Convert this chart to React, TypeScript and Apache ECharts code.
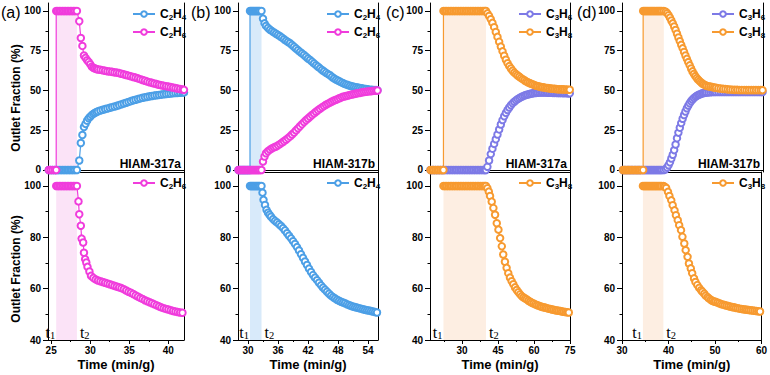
import React, { useEffect, useRef } from "react";
import * as echarts from "echarts";

const PINK = "#f03cdc";
const BLUE = "#4c9fe6";
const PURPLE = "#7d7ae6";
const ORANGE = "#f79a30";
const SANS = "'Liberation Sans', Arial, Helvetica, sans-serif";
const SERIF = "'Liberation Serif', 'Times New Roman', serif";

// ---------- (a) HIAM-317a, C2H4/C2H6 ----------
const aTopC2H4: number[][] = [
  [24.7, 0], [24.95, 0], [25.2, 0], [25.45, 0], [25.65, 0], [25.85, 0], [26.05, 0], [26.25, 0], [26.45, 0], [26.65, 0],
  [26.85, 0], [27.05, 0], [27.25, 0], [27.45, 0], [27.65, 0], [27.85, 0], [28.05, 0], [28.3, 0],
  [28.6, 6], [28.8, 17], [29.0, 22], [29.2, 27], [29.4, 29], [29.6, 31], [29.8, 32.5], [30.0, 33.5], [30.2, 34.5],
  [30.4, 35.3], [30.6, 35.9], [30.8, 36.4], [31.0, 36.9], [31.3, 37.4], [31.6, 37.9], [31.9, 38.3], [32.2, 38.7],
  [32.5, 39.1], [32.8, 39.5], [33.1, 39.9], [33.4, 40.3], [33.7, 40.8], [34.0, 41.3], [34.3, 41.8], [34.6, 42.3],
  [34.9, 42.8], [35.2, 43.3], [35.5, 43.8], [35.8, 44.2], [36.1, 44.6], [36.4, 45.0], [36.7, 45.4], [37.0, 45.7],
  [37.3, 46.0], [37.6, 46.3], [37.9, 46.5], [38.2, 46.8], [38.5, 47.0], [38.8, 47.2], [39.1, 47.4], [39.4, 47.6],
  [39.7, 47.8], [40.0, 47.9], [40.3, 48.1], [40.6, 48.3], [40.9, 48.4], [41.2, 48.5], [41.5, 48.6], [41.8, 48.7], [42.0, 48.8],
];
const aTopC2H6: number[][] = [
  [24.7, 0], [24.95, 0], [25.2, 0], [25.45, 0], [25.65, 0],
  [25.65, 100], [25.85, 100], [26.05, 100], [26.25, 100], [26.45, 100], [26.65, 100], [26.85, 100], [27.05, 100],
  [27.25, 100], [27.45, 100], [27.65, 100], [27.85, 100], [28.05, 100], [28.3, 100],
  [28.6, 93.5], [28.8, 83], [29.0, 78], [29.2, 72], [29.4, 70.5], [29.6, 69], [29.8, 68], [30.0, 66.5], [30.2, 65],
  [30.4, 64.3], [30.6, 63.8], [30.8, 63.5], [31.0, 63.2], [31.3, 63.0], [31.6, 62.7], [31.9, 62.4], [32.2, 62.1],
  [32.5, 61.9], [32.8, 61.7], [33.1, 61.4], [33.4, 61.2], [33.7, 60.9], [34.0, 60.5], [34.3, 60.1], [34.6, 59.7],
  [34.9, 59.3], [35.2, 58.9], [35.5, 58.5], [35.8, 58.1], [36.1, 57.6], [36.4, 57.1], [36.7, 56.6], [37.0, 56.1],
  [37.3, 55.6], [37.6, 55.2], [37.9, 54.8], [38.2, 54.4], [38.5, 54.0], [38.8, 53.6], [39.1, 53.3], [39.4, 53.0],
  [39.7, 52.7], [40.0, 52.4], [40.3, 52.1], [40.6, 51.8], [40.9, 51.5], [41.2, 51.2], [41.5, 50.9], [41.8, 50.6], [42.0, 50.4],
];
const aBotC2H6: number[][] = [
  [25.65, 100], [25.85, 100], [26.05, 100], [26.25, 100], [26.45, 100], [26.65, 100], [26.85, 100], [27.05, 100],
  [27.25, 100], [27.45, 100], [27.65, 100], [27.85, 100], [28.05, 100], [28.3, 100],
  [28.5, 94], [28.6, 89], [28.8, 84.5], [28.9, 79.5], [29.1, 78], [29.2, 74], [29.35, 71.5], [29.5, 70.2], [29.65, 68.5],
  [29.9, 66.7], [30.1, 65], [30.4, 64.2], [30.7, 63.6], [31.0, 63.2], [31.3, 62.9], [31.6, 62.6], [31.9, 62.3],
  [32.2, 62.0], [32.5, 61.7], [32.8, 61.4], [33.1, 61.1], [33.4, 60.8], [33.7, 60.5], [34.0, 60.2], [34.3, 59.8],
  [34.6, 59.3], [34.9, 58.8], [35.2, 58.4], [35.5, 57.9], [35.8, 57.4], [36.1, 56.9], [36.4, 56.4], [36.7, 56.0],
  [37.0, 55.5], [37.3, 55.1], [37.6, 54.7], [37.9, 54.3], [38.2, 53.9], [38.5, 53.5], [38.8, 53.1], [39.1, 52.7],
  [39.4, 52.4], [39.7, 52.1], [40.0, 51.9], [40.3, 51.6], [40.6, 51.3], [40.9, 51.1], [41.2, 50.9], [41.5, 50.7], [41.8, 50.6],
];

// ---------- (b) HIAM-317b, C2H4/C2H6 ----------
const bTopC2H4: number[][] = [
  [28.1, 0], [28.35, 0], [28.6, 0], [28.85, 0], [29.1, 0], [29.35, 0], [29.6, 0], [29.85, 0], [30.1, 0], [30.4, 0],
  [30.4, 100], [30.6, 100], [30.8, 100], [31.0, 100], [31.2, 100], [31.4, 100], [31.6, 100], [31.8, 100], [32.0, 100],
  [32.2, 100], [32.4, 100], [32.7, 100],
  [33.0, 95.2], [33.3, 92.2], [33.6, 90.6], [34.0, 89.3], [34.4, 88.2], [34.8, 87.3], [35.2, 86.5], [35.6, 85.7],
  [36.0, 84.9], [36.4, 84.1], [36.8, 83.2], [37.2, 82.2], [37.6, 81.3], [38.0, 80.5], [38.4, 79.7], [38.8, 78.6],
  [39.2, 77.5], [39.6, 76.4], [40.0, 75.3], [40.4, 74.3], [40.8, 73.3], [41.2, 72.3], [41.6, 71.2], [42.0, 70.1],
  [42.4, 69.2], [42.8, 68.1], [43.2, 67.0], [43.6, 65.9], [44.0, 64.9], [44.4, 63.9], [44.8, 62.9], [45.2, 62.0],
  [45.6, 61.1], [46.0, 60.3], [46.4, 59.6], [46.8, 58.5], [47.2, 57.6], [47.6, 56.8], [48.0, 56.2], [48.4, 55.6],
  [48.8, 54.9], [49.2, 54.3], [49.6, 53.8], [50.0, 53.4], [50.4, 53.0], [50.8, 52.6], [51.2, 52.3], [51.6, 52.0],
  [52.0, 51.8], [52.4, 51.6], [52.8, 51.3], [53.2, 51.1], [53.6, 50.9], [54.0, 50.7], [54.4, 50.5], [54.8, 50.4],
  [55.2, 50.3], [55.6, 50.2], [55.9, 50.1],
];
const bTopC2H6: number[][] = [
  [28.1, 0], [28.35, 0], [28.6, 0], [28.85, 0], [29.1, 0], [29.35, 0], [29.6, 0], [29.85, 0], [30.1, 0], [30.4, 0],
  [30.6, 0], [30.8, 0], [31.0, 0], [31.2, 0], [31.4, 0], [31.6, 0], [31.8, 0], [32.0, 0], [32.2, 0], [32.4, 0], [32.7, 0],
  [33.0, 5.3], [33.3, 8.5], [33.6, 10.5], [34.0, 11.8], [34.4, 12.8], [34.8, 13.6], [35.2, 14.2], [35.6, 14.8],
  [36.0, 15.5], [36.4, 16.3], [36.8, 17.2], [37.2, 18.1], [37.6, 19.0], [38.0, 20.0], [38.4, 21.1], [38.8, 22.3],
  [39.2, 23.5], [39.6, 24.9], [40.0, 26.2], [40.4, 27.5], [40.8, 28.8], [41.2, 30.1], [41.6, 31.3], [42.0, 32.4],
  [42.4, 33.5], [42.8, 34.6], [43.2, 35.6], [43.6, 36.6], [44.0, 37.6], [44.4, 38.5], [44.8, 39.4], [45.2, 40.2],
  [45.6, 41.0], [46.0, 41.7], [46.4, 42.4], [46.8, 43.1], [47.2, 43.7], [47.6, 44.2], [48.0, 44.7], [48.4, 45.3],
  [48.8, 45.8], [49.2, 46.2], [49.6, 46.5], [50.0, 46.8], [50.4, 47.2], [50.8, 47.5], [51.2, 47.8], [51.6, 48.0],
  [52.0, 48.3], [52.4, 48.5], [52.8, 48.8], [53.2, 49.0], [53.6, 49.2], [54.0, 49.4], [54.4, 49.5], [54.8, 49.7],
  [55.2, 49.8], [55.6, 49.9], [55.9, 50.0],
];
const bBotC2H4: number[][] = [
  [30.4, 100], [30.6, 100], [30.8, 100], [31.0, 100], [31.2, 100], [31.4, 100], [31.6, 100], [31.8, 100], [32.0, 100],
  [32.2, 100], [32.4, 100], [32.7, 100],
  [32.9, 97.4], [33.1, 94.6], [33.4, 92.6], [33.7, 90.7], [34.0, 89.6], [34.3, 88.8], [34.6, 88.0], [35.0, 87.1],
  [35.4, 86.4], [35.8, 85.8], [36.2, 85.1], [36.6, 84.4], [37.0, 83.6], [37.4, 82.7], [37.8, 81.6], [38.2, 80.6],
  [38.6, 79.6], [39.0, 78.5], [39.4, 77.4], [39.8, 76.2], [40.2, 74.9], [40.6, 73.4], [41.0, 72.0], [41.4, 70.6],
  [41.8, 69.2], [42.2, 67.8], [42.6, 66.5], [43.0, 65.3], [43.4, 64.3], [43.8, 63.3], [44.2, 62.3], [44.6, 61.3],
  [45.0, 60.4], [45.4, 59.6], [45.8, 58.8], [46.2, 58.0], [46.6, 57.3], [47.0, 56.7], [47.4, 56.2], [47.8, 55.7],
  [48.2, 55.3], [48.6, 54.9], [49.0, 54.6], [49.4, 54.3], [49.8, 53.9], [50.2, 53.6], [50.6, 53.3], [51.0, 53.0],
  [51.4, 52.8], [51.8, 52.6], [52.2, 52.4], [52.6, 52.2], [53.0, 52.0], [53.4, 51.8], [53.8, 51.6], [54.2, 51.5],
  [54.6, 51.3], [55.0, 51.1], [55.4, 50.9], [55.8, 50.7],
];

// ---------- (c) HIAM-317a, C3H6/C3H8 ----------
const cTopC3H6: number[][] = [
  [16.9, 0], [17.6, 0], [18.3, 0], [19.0, 0], [19.7, 0], [20.4, 0], [21.1, 0], [21.8, 0], [22.3, 0], [23.0, 0], [23.7, 0],
  [24.4, 0], [25.1, 0], [25.8, 0], [26.5, 0], [27.2, 0], [27.9, 0], [28.6, 0], [29.3, 0], [30.0, 0], [30.7, 0], [31.4, 0],
  [32.1, 0], [32.8, 0], [33.5, 0], [34.2, 0], [34.9, 0], [35.6, 0], [36.3, 0], [37.0, 0], [37.7, 0], [38.4, 0], [39.1, 0],
  [39.6, 0], [40.0, 0],
  [40.6, 2], [41.3, 6], [42.0, 10], [42.7, 13.4], [43.4, 16.4], [44.1, 19.3], [44.8, 22.3], [45.5, 25.5], [46.2, 28.6],
  [46.9, 31.4], [47.6, 33.8], [48.3, 35.9], [49.0, 37.7], [49.7, 39.3], [50.4, 40.7], [51.1, 41.9], [51.8, 42.9],
  [52.5, 43.8], [53.2, 44.6], [53.9, 45.2], [54.6, 45.8], [55.3, 46.3], [56.0, 46.8], [56.7, 47.2], [57.4, 47.5],
  [58.1, 47.8], [58.8, 48.0], [59.5, 48.2], [60.2, 48.4], [60.9, 48.5], [61.6, 48.6], [62.3, 48.7], [63.0, 48.7],
  [63.7, 48.7], [64.4, 48.7], [65.1, 48.7], [65.8, 48.6], [66.5, 48.6], [67.2, 48.6], [67.9, 48.5], [68.6, 48.5],
  [69.3, 48.5], [70.0, 48.4], [70.7, 48.4], [71.4, 48.4], [72.1, 48.3], [72.8, 48.3], [73.5, 48.3], [74.2, 48.2], [74.9, 48.2],
];
const cTopC3H8: number[][] = [
  [16.9, 0], [17.6, 0], [18.3, 0], [19.0, 0], [19.7, 0], [20.4, 0], [21.1, 0], [21.8, 0], [22.3, 0],
  [22.3, 100], [23.0, 100], [23.7, 100], [24.4, 100], [25.1, 100], [25.8, 100], [26.5, 100], [27.2, 100], [27.9, 100],
  [28.6, 100], [29.3, 100], [30.0, 100], [30.7, 100], [31.4, 100], [32.1, 100], [32.8, 100], [33.5, 100], [34.2, 100],
  [34.9, 100], [35.6, 100], [36.3, 100], [37.0, 100], [37.7, 100], [38.4, 100], [39.1, 100], [39.6, 100], [40.0, 100],
  [40.6, 98.5], [41.3, 96.8], [42.0, 94.8], [42.7, 92.5], [43.4, 89.8], [44.1, 86.8], [44.8, 83.7], [45.5, 80.6],
  [46.2, 77.6], [46.9, 74.6], [47.6, 71.8], [48.3, 69.3], [49.0, 67.1], [49.7, 65.3], [50.4, 63.8], [51.1, 62.4],
  [51.8, 61.2], [52.5, 60.3], [53.2, 59.4], [53.9, 58.6], [54.6, 57.8], [55.3, 57.1], [56.0, 56.4], [56.7, 55.7],
  [57.4, 55.2], [58.1, 54.7], [58.8, 54.2], [59.5, 53.8], [60.2, 53.4], [60.9, 53.0], [61.6, 52.7], [62.3, 52.4],
  [63.0, 52.2], [63.7, 52.0], [64.4, 51.8], [65.1, 51.6], [65.8, 51.5], [66.5, 51.3], [67.2, 51.2], [67.9, 51.1],
  [68.6, 51.0], [69.3, 50.9], [70.0, 50.8], [70.7, 50.8], [71.4, 50.7], [72.1, 50.7], [72.8, 50.6], [73.5, 50.6],
  [74.2, 50.5], [74.9, 50.5],
];
const cBotC3H8: number[][] = [
  [22.3, 100], [23.0, 100], [23.7, 100], [24.4, 100], [25.1, 100], [25.8, 100], [26.5, 100], [27.2, 100], [27.9, 100],
  [28.6, 100], [29.3, 100], [30.0, 100], [30.7, 100], [31.4, 100], [32.1, 100], [32.8, 100], [33.5, 100], [34.2, 100],
  [34.9, 100], [35.6, 100], [36.3, 100], [37.0, 100], [37.7, 100], [38.4, 100], [39.1, 100], [39.6, 100], [40.0, 100],
  [40.6, 99.1], [41.2, 97.8], [41.7, 96.1], [42.4, 93.9], [43.1, 91.4], [43.8, 88.8], [44.5, 85.5], [45.2, 83.0],
  [45.9, 79.7], [46.6, 76.5], [47.2, 73.3], [47.9, 70.5], [48.6, 68.1], [49.3, 66.0], [50.0, 64.3], [50.7, 62.9],
  [51.4, 61.7], [52.1, 60.5], [52.8, 59.5], [53.5, 58.6], [54.2, 57.8], [54.9, 57.1], [55.6, 56.6], [56.3, 56.2],
  [57.0, 55.8], [57.7, 55.3], [58.4, 54.9], [59.1, 54.5], [59.8, 54.2], [60.5, 53.9], [61.2, 53.6], [61.9, 53.4],
  [62.6, 53.1], [63.3, 52.9], [64.0, 52.7], [64.7, 52.6], [65.4, 52.4], [66.1, 52.2], [66.8, 52.1], [67.5, 51.9],
  [68.2, 51.8], [68.9, 51.6], [69.6, 51.5], [70.3, 51.4], [71.0, 51.3], [71.7, 51.1], [72.4, 51.0], [73.1, 50.9],
  [73.8, 50.8], [74.5, 50.7],
];

// ---------- (d) HIAM-317b, C3H6/C3H8 ----------
const dTopC3H6: number[][] = [
  [30.2, 0], [30.5, 0], [30.8, 0], [31.1, 0], [31.4, 0], [31.7, 0], [32.0, 0], [32.3, 0], [32.6, 0], [32.9, 0], [33.2, 0],
  [33.5, 0], [33.8, 0], [34.1, 0], [34.5, 0], [34.75, 0], [35.0, 0], [35.25, 0], [35.5, 0], [35.75, 0], [36.0, 0],
  [36.25, 0], [36.5, 0], [36.75, 0], [37.0, 0], [37.25, 0], [37.5, 0], [37.75, 0], [38.0, 0], [38.25, 0], [38.5, 0], [38.9, 0],
  [39.3, 0.5], [39.6, 1.6], [39.9, 3.0], [40.2, 4.8], [40.5, 7.2], [40.8, 9.6], [41.1, 12.5], [41.4, 16.0], [41.7, 20.0],
  [42.0, 23.5], [42.3, 26.6], [42.6, 29.5], [42.9, 32.2], [43.2, 34.6], [43.5, 36.8], [43.8, 38.8], [44.1, 40.5],
  [44.4, 42.0], [44.7, 43.2], [45.0, 44.3], [45.3, 45.2], [45.6, 46.0], [45.9, 46.6], [46.2, 47.1], [46.5, 47.5],
  [46.8, 47.9], [47.1, 48.2], [47.4, 48.4], [47.7, 48.6], [48.0, 48.7], [48.4, 48.8], [48.8, 48.9], [49.2, 49.0],
  [49.6, 49.0], [50.0, 49.0], [50.5, 49.0], [51.0, 49.0], [51.5, 49.0], [52.0, 49.0], [52.5, 49.0], [53.0, 49.0],
  [53.5, 49.0], [54.0, 49.0], [54.5, 49.0], [55.0, 49.0], [55.5, 49.0], [56.0, 49.0], [56.5, 49.0], [57.0, 49.0],
  [57.5, 49.0], [58.0, 49.0], [58.5, 49.0], [59.0, 49.0], [59.5, 49.0], [59.9, 49.0],
];
const dTopC3H8: number[][] = [
  [30.2, 0], [30.5, 0], [30.8, 0], [31.1, 0], [31.4, 0], [31.7, 0], [32.0, 0], [32.3, 0], [32.6, 0], [32.9, 0], [33.2, 0],
  [33.5, 0], [33.8, 0], [34.1, 0], [34.5, 0],
  [34.5, 100], [34.75, 100], [35.0, 100], [35.25, 100], [35.5, 100], [35.75, 100], [36.0, 100], [36.25, 100], [36.5, 100],
  [36.75, 100], [37.0, 100], [37.25, 100], [37.5, 100], [37.75, 100], [38.0, 100], [38.25, 100], [38.5, 100], [38.9, 100],
  [39.3, 99.5], [39.6, 98.6], [39.9, 97.3], [40.2, 95.8], [40.5, 94.0], [40.8, 92.2], [41.1, 90.2], [41.4, 88.0],
  [41.7, 85.7], [42.0, 83.3], [42.3, 81.0], [42.6, 78.7], [42.9, 76.5], [43.2, 74.2], [43.5, 72.0], [43.8, 69.9],
  [44.1, 67.8], [44.4, 65.8], [44.7, 63.8], [45.0, 62.0], [45.3, 60.4], [45.6, 59.0], [45.9, 57.8], [46.2, 56.8],
  [46.5, 55.9], [46.8, 55.1], [47.1, 54.4], [47.4, 53.8], [47.7, 53.3], [48.0, 52.9], [48.4, 52.6], [48.8, 52.4],
  [49.2, 52.2], [49.6, 51.9], [50.0, 51.7], [50.5, 51.4], [51.0, 51.2], [51.5, 51.0], [52.0, 50.9], [52.5, 50.7],
  [53.0, 50.6], [53.5, 50.5], [54.0, 50.4], [54.5, 50.4], [55.0, 50.3], [55.5, 50.3], [56.0, 50.3], [56.5, 50.2],
  [57.0, 50.2], [57.5, 50.2], [58.0, 50.2], [58.5, 50.2], [59.0, 50.2], [59.5, 50.2], [59.9, 50.2],
];
const dBotC3H8: number[][] = [
  [34.5, 100], [34.75, 100], [35.0, 100], [35.25, 100], [35.5, 100], [35.75, 100], [36.0, 100], [36.25, 100], [36.5, 100],
  [36.75, 100], [37.0, 100], [37.25, 100], [37.5, 100], [37.75, 100], [38.0, 100], [38.25, 100], [38.5, 100], [38.9, 100],
  [39.2, 99.7], [39.5, 99.2], [39.9, 97.7], [40.2, 96.1], [40.6, 94.4], [40.9, 92.5], [41.3, 90.5], [41.6, 88.6],
  [42.0, 86.7], [42.3, 84.7], [42.7, 82.8], [43.0, 80.2], [43.4, 77.6], [43.7, 75.0], [44.1, 72.4], [44.4, 69.8],
  [44.8, 67.9], [45.1, 66.0], [45.5, 64.0], [45.8, 62.6], [46.2, 61.4], [46.6, 60.3], [47.0, 59.4], [47.3, 58.8],
  [47.7, 58.0], [48.0, 57.3], [48.4, 56.7], [48.7, 56.2], [49.1, 55.7], [49.4, 55.3], [49.8, 55.0], [50.1, 54.9],
  [50.5, 54.6], [50.9, 54.3], [51.3, 54.0], [51.7, 53.8], [52.1, 53.6], [52.5, 53.4], [52.9, 53.2], [53.3, 53.0],
  [53.7, 52.8], [54.1, 52.7], [54.5, 52.5], [54.9, 52.4], [55.3, 52.2], [55.7, 52.1], [56.1, 52.0], [56.5, 51.9],
  [56.9, 51.8], [57.3, 51.7], [57.7, 51.6], [58.1, 51.5], [58.5, 51.4], [58.9, 51.3], [59.3, 51.2], [59.7, 51.1],
];

// ---------- axes ----------
const topYTicks = [0, 25, 50, 75, 100];
const topYMinor = [12.5, 37.5, 62.5, 87.5];
const botYTicks = [40, 60, 80, 100];
const botYMinor = [50, 70, 90];
const xTitle = "Time (min/g)";
const yTitle = "Outlet Fraction (%)";

const aXTicks = [25, 30, 35, 40];
const aXMinor = [27.5, 32.5, 37.5];
const bXTicks = [30, 36, 42, 48, 54];
const bXMinor = [33, 39, 45, 51];
const cXTicks = [30, 45, 60, 75];
const cXMinor = [22.5, 37.5, 52.5, 67.5];
const dXTicks = [30, 40, 50, 60];
const dXMinor = [35, 45, 55];

const panels = [
  {
    letter: "(a)", letterX: 1, tag: "HIAM-317a", left: 48, width: 136, xMin: 24.6, xMax: 42,
    xTicks: aXTicks, xMinor: aXMinor, t1: 25.65, t2: 28.3, shade: "#fbe3f7",
    top: [{ name: "C2H4", color: BLUE, data: aTopC2H4 }, { name: "C2H6", color: PINK, data: aTopC2H6 }],
    bottom: [{ name: "C2H6", color: PINK, data: aBotC2H6 }],
  },
  {
    letter: "(b)", letterX: 191, tag: "HIAM-317b", left: 238, width: 140, xMin: 28, xMax: 56,
    xTicks: bXTicks, xMinor: bXMinor, t1: 30.4, t2: 32.7, shade: "#d8eafa",
    top: [{ name: "C2H4", color: BLUE, data: bTopC2H4 }, { name: "C2H6", color: PINK, data: bTopC2H6 }],
    bottom: [{ name: "C2H4", color: BLUE, data: bBotC2H4 }],
  },
  {
    letter: "(c)", letterX: 386, tag: "HIAM-317a", left: 430, width: 140, xMin: 16.7, xMax: 75,
    xTicks: cXTicks, xMinor: cXMinor, t1: 22.3, t2: 40.0, shade: "#fdeee2",
    top: [{ name: "C3H6", color: PURPLE, data: cTopC3H6 }, { name: "C3H8", color: ORANGE, data: cTopC3H8 }],
    bottom: [{ name: "C3H8", color: ORANGE, data: cBotC3H8 }],
  },
  {
    letter: "(d)", letterX: 577, tag: "HIAM-317b", left: 622, width: 141, xMin: 30, xMax: 60,
    xTicks: dXTicks, xMinor: dXMinor, t1: 34.5, t2: 38.9, shade: "#fdeee2",
    top: [{ name: "C3H6", color: PURPLE, data: dTopC3H6 }, { name: "C3H8", color: ORANGE, data: dTopC3H8 }],
    bottom: [{ name: "C3H8", color: ORANGE, data: dBotC3H8 }],
  },
];

const TOP_Y = 3;
const TOP_H = 169;
const BOT_Y = 172;
const BOT_H = 168;
const TOP_MIN = -1.26;
const TOP_MAX = 105;
const BOT_MIN = 40;
const BOT_MAX = 105.45;

const black = { color: "#000", width: 1 };

function buildOption() {
  const grid: any[] = [];
  const xAxis: any[] = [];
  const yAxis: any[] = [];
  const series: any[] = [];
  const legend: any[] = [];
  const graphic: any[] = [];

  const tickLabel = { color: "#000", fontWeight: "bold", fontSize: 10, fontFamily: SANS };

  const legendFormatter = (name: string) =>
    name.replace(/([A-Z])/g, "{n|$1}").replace(/(\d)/g, "{s|$1}");
  const legendRich = {
    n: { fontSize: 12, fontWeight: "bold", fontFamily: SANS, color: "#000", lineHeight: 14 },
    s: { fontSize: 8, fontWeight: "bold", fontFamily: SANS, color: "#000", lineHeight: 4, verticalAlign: "bottom" },
  };
  const tRich = {
    t: { fontSize: 16, fontFamily: SERIF, color: "#000", lineHeight: 18 },
    s: { fontSize: 10.5, fontFamily: SERIF, color: "#000", lineHeight: 3, verticalAlign: "bottom" },
  };

  panels.forEach((p) => {
    const gT = grid.length;
    grid.push({ left: p.left, top: TOP_Y, width: p.width, height: TOP_H, containLabel: false });
    const gB = grid.length;
    grid.push({ left: p.left, top: BOT_Y, width: p.width, height: BOT_H, containLabel: false });

    const xBase = { type: "value", min: p.xMin, max: p.xMax, splitLine: { show: false } };
    const xT = xAxis.length;
    xAxis.push({ ...xBase, gridIndex: gT, position: "bottom", axisLine: { show: true, lineStyle: black }, axisTick: { show: false }, axisLabel: { show: false } });
    const xB = xAxis.length;
    xAxis.push({
      ...xBase, gridIndex: gB, position: "bottom",
      axisLine: { show: true, lineStyle: black },
      axisTick: { show: true, inside: false, length: 4, customValues: p.xTicks, lineStyle: black },
      axisLabel: { show: true, customValues: p.xTicks, margin: 5, ...tickLabel },
      name: xTitle, nameLocation: "middle", nameGap: 18,
      nameTextStyle: { color: "#000", fontWeight: "bold", fontSize: 13, fontFamily: SANS },
    });
    xAxis.push({
      ...xBase, gridIndex: gB, position: "bottom", axisLine: { show: false },
      axisTick: { show: true, inside: false, length: 2, customValues: p.xMinor, lineStyle: black },
      axisLabel: { show: false },
    });
    xAxis.push({ ...xBase, gridIndex: gB, position: "top", axisLine: { show: true, lineStyle: black }, axisTick: { show: false }, axisLabel: { show: false } });

    const yT = yAxis.length;
    yAxis.push({
      type: "value", gridIndex: gT, min: TOP_MIN, max: TOP_MAX, position: "left", splitLine: { show: false },
      axisLine: { show: true, lineStyle: black },
      axisTick: { show: true, inside: false, length: 5, customValues: topYTicks, lineStyle: black },
      axisLabel: { show: true, customValues: topYTicks, margin: 7, ...tickLabel },
    });
    yAxis.push({
      type: "value", gridIndex: gT, min: TOP_MIN, max: TOP_MAX, position: "left", splitLine: { show: false },
      axisLine: { show: false },
      axisTick: { show: true, inside: false, length: 2.5, customValues: topYMinor, lineStyle: black },
      axisLabel: { show: false },
    });
    yAxis.push({
      type: "value", gridIndex: gT, min: TOP_MIN, max: TOP_MAX, position: "right", splitLine: { show: false },
      axisLine: { show: true, lineStyle: black }, axisTick: { show: false }, axisLabel: { show: false },
    });
    const yB = yAxis.length;
    yAxis.push({
      type: "value", gridIndex: gB, min: BOT_MIN, max: BOT_MAX, position: "left", splitLine: { show: false },
      axisLine: { show: true, lineStyle: black },
      axisTick: { show: true, inside: false, length: 5, customValues: botYTicks, lineStyle: black },
      axisLabel: { show: true, customValues: botYTicks, margin: 7, ...tickLabel },
    });
    yAxis.push({
      type: "value", gridIndex: gB, min: BOT_MIN, max: BOT_MAX, position: "left", splitLine: { show: false },
      axisLine: { show: false },
      axisTick: { show: true, inside: false, length: 2.5, customValues: botYMinor, lineStyle: black },
      axisLabel: { show: false },
    });
    yAxis.push({
      type: "value", gridIndex: gB, min: BOT_MIN, max: BOT_MAX, position: "right", splitLine: { show: false },
      axisLine: { show: true, lineStyle: black }, axisTick: { show: false }, axisLabel: { show: false },
    });

    series.push({
      type: "line", xAxisIndex: xT, yAxisIndex: yT, data: [], silent: true,
      markArea: { silent: true, itemStyle: { color: p.shade }, data: [[{ xAxis: p.t1, yAxis: 0 }, { xAxis: p.t2, yAxis: 100 }]] },
    });
    series.push({
      type: "line", xAxisIndex: xB, yAxisIndex: yB, data: [], silent: true,
      markArea: { silent: true, itemStyle: { color: p.shade }, data: [[{ xAxis: p.t1, yAxis: 40 }, { xAxis: p.t2, yAxis: 100 }]] },
      markPoint: {
        silent: true, symbol: "circle", symbolSize: 0,
        label: { show: true, rich: tRich },
        data: [
          { coord: [p.t1, 43], label: { position: "left", distance: 1, formatter: "{t|t}{s|1}" } },
          { coord: [p.t2, 43], label: { position: "right", distance: 3, formatter: "{t|t}{s|2}" } },
        ],
      },
    });

    const mkLine = (s: any, xi: number, yi: number) => ({
      type: "line", name: s.name, xAxisIndex: xi, yAxisIndex: yi, data: s.data,
      symbol: "emptyCircle", symbolSize: 6.5, showSymbol: true, clip: false, silent: true,
      lineStyle: { color: s.color, width: 1.2 },
      itemStyle: { color: s.color, borderColor: s.color, borderWidth: 0.9 },
    });
    p.top.forEach((s) => series.push(mkLine(s, xT, yT)));
    p.bottom.forEach((s) => series.push(mkLine(s, xB, yB)));

    const legendBase = {
      orient: "vertical", itemWidth: 22, itemHeight: 7, itemGap: 5, selectedMode: false,
      formatter: legendFormatter, textStyle: { rich: legendRich },
      left: p.left + p.width - 52, padding: 0,
    };
    legend.push({ ...legendBase, top: 8, data: p.top.map((s) => s.name) });
    legend.push({ ...legendBase, top: 177, data: p.bottom.map((s) => s.name) });

    graphic.push({
      type: "text", left: p.letterX, top: 4,
      style: { text: p.letter, fill: "#000", font: `16px ${SANS}` },
    });
    graphic.push({
      type: "text", x: p.left + p.width - 3, y: 164,
      style: { text: p.tag, fill: "#000", font: `bold 12px ${SANS}`, textAlign: "right", textVerticalAlign: "middle", align: "right", verticalAlign: "middle" },
    });
  });

  graphic.push({
    type: "text", x: 16, y: 98, rotation: Math.PI / 2,
    style: { text: yTitle, fill: "#000", font: `bold 12px ${SANS}`, textAlign: "center", textVerticalAlign: "middle", align: "center", verticalAlign: "middle" },
  });
  graphic.push({
    type: "text", x: 16, y: 269, rotation: Math.PI / 2,
    style: { text: yTitle, fill: "#000", font: `bold 12px ${SANS}`, textAlign: "center", textVerticalAlign: "middle", align: "center", verticalAlign: "middle" },
  });

  return {
    animation: false,
    backgroundColor: "#fff",
    grid, xAxis, yAxis, series, legend, graphic,
  };
}

export default function App() {
  const ref = useRef<HTMLDivElement>(null);
  useEffect(() => {
    if (!ref.current) return;
    const chart = echarts.init(ref.current, null, { renderer: "svg" });
    chart.setOption(buildOption());
    return () => chart.dispose();
  }, []);
  return (
    <div
      ref={ref}
      style={{ position: "fixed", left: 0, top: 0, width: 770, height: 375, background: "#fff" }}
    />
  );
}
